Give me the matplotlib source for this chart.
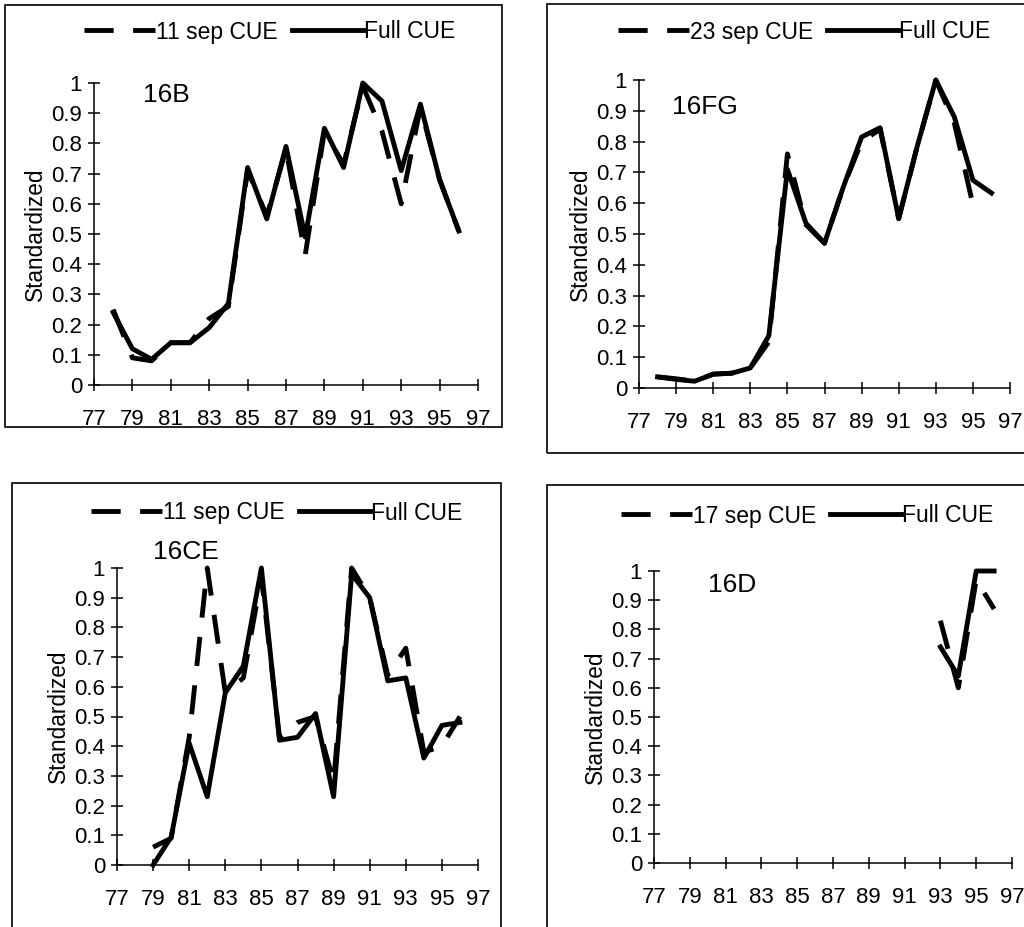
#!/usr/bin/env python3
"""
Standardized CUE series, four stock panels (16B, 16FG, 16CE, 16D):
partial-September CUE (dashed) vs full CUE (solid).
"""

import matplotlib
matplotlib.use("Agg")
import matplotlib.pyplot as plt
from matplotlib.patches import Rectangle
from matplotlib.ticker import FuncFormatter

# ==========================
# Data
# ==========================
years_b = [78, 79, 80, 81, 82, 83, 84, 85, 86, 87, 88, 89, 90, 91, 92, 93, 94, 95, 96]
full_b = [0.24, 0.12, 0.085, 0.14, 0.14, 0.19, 0.27, 0.72, 0.55, 0.79, 0.49,
          0.85, 0.72, 1.00, 0.94, 0.71, 0.93, 0.68, 0.51]
sep_b = [0.25, 0.09, 0.08, 0.14, 0.14, 0.22, 0.26, 0.71, 0.56, 0.78, 0.43,
         0.84, 0.73, 0.99, 0.84, 0.60, 0.92, 0.68, 0.51]

years_fg = [78, 79, 80, 81, 82, 83, 84, 85, 86, 87, 88, 89, 90, 91, 92, 93, 94, 95, 96]
full_fg = [0.036, 0.028, 0.022, 0.045, 0.048, 0.065, 0.17, 0.71, 0.535, 0.47,
           0.65, 0.815, 0.845, 0.55, 0.785, 1.00, 0.88, 0.675, 0.633]
years_fg_sep = [78, 79, 80, 81, 82, 83, 84, 85, 86, 87, 88, 89, 90, 91, 92, 93, 94, 95]
sep_fg = [0.036, 0.030, 0.022, 0.045, 0.048, 0.065, 0.15, 0.76, 0.53, 0.47,
          0.65, 0.80, 0.84, 0.55, 0.785, 1.00, 0.86, 0.595]

years_ce = [79, 80, 81, 82, 83, 84, 85, 86, 87, 88, 89, 90, 91, 92, 93, 94, 95, 96]
full_ce = [0.0, 0.094, 0.41, 0.23, 0.58, 0.67, 1.00, 0.42, 0.43, 0.51, 0.23,
           0.98, 0.90, 0.62, 0.63, 0.36, 0.47, 0.48]
sep_ce = [0.06, 0.09, 0.43, 1.00, 0.58, 0.63, 0.97, 0.43, 0.48, 0.50, 0.28,
          1.00, 0.90, 0.64, 0.73, 0.38, 0.40, 0.50]

years_d = [93, 94, 95, 96]
full_d = [0.74, 0.64, 1.00, 1.00]
sep_d = [0.83, 0.60, 0.97, 0.87]

x_ticks = [77, 79, 81, 83, 85, 87, 89, 91, 93, 95, 97]
y_ticks = [0, 0.1, 0.2, 0.3, 0.4, 0.5, 0.6, 0.7, 0.8, 0.9, 1.0]

# ==========================
# Figure geometry (pixels)
# ==========================
W, H = 1024, 927
plt.rcParams["font.family"] = ["Liberation Sans", "DejaVu Sans"]

fig = plt.figure(figsize=(W / 100, H / 100), dpi=100)
fig.patch.set_facecolor("white")


def px_axes(left, right, top, bottom):
    return fig.add_axes([left / W, 1 - bottom / H, (right - left) / W, (bottom - top) / H])


def px_box(left, right, top, bottom):
    fig.patches.append(Rectangle(
        (left / W, 1 - bottom / H), (right - left) / W, (bottom - top) / H,
        transform=fig.transFigure, fill=False, edgecolor="black", lw=1.2,
    ))


def fmt_y(v, _):
    if abs(v) < 1e-9:
        return "0"
    if abs(v - 1) < 1e-9:
        return "1"
    return f"{v:.1f}"


def panel(ax, xs_full, ys_full, xs_sep, ys_sep, sep_label, name, name_xy, legend_px):
    ax.plot(xs_sep, ys_sep, color="black", lw=3.5, dashes=(6, 4),
            clip_on=False, label=sep_label)
    ax.plot(xs_full, ys_full, color="black", lw=3.5, clip_on=False, label="Full CUE")

    ax.set_xlim(77, 97)
    ax.set_ylim(0, 1)
    ax.set_xticks(x_ticks)
    ax.set_yticks(y_ticks)
    ax.yaxis.set_major_formatter(FuncFormatter(fmt_y))
    ax.tick_params(axis="both", direction="inout", length=9, width=1.1, labelsize=16)
    ax.tick_params(axis="x", pad=13)
    ax.tick_params(axis="y", pad=4)
    for side in ("top", "right"):
        ax.spines[side].set_visible(False)
    for side in ("left", "bottom"):
        ax.spines[side].set_linewidth(1.1)
    ax.patch.set_alpha(0)

    ax.set_ylabel("Standardized", fontsize=16.3, labelpad=3)
    ax.text(name_xy[0], name_xy[1], name, transform=ax.transAxes,
            fontsize=19, ha="left", va="center")

    ax.legend(
        loc="center left", frameon=False, ncol=2,
        bbox_to_anchor=(legend_px[0] / W, 1 - legend_px[1] / H),
        bbox_transform=fig.transFigure, borderaxespad=0, borderpad=0,
        handlelength=3.1, handletextpad=0.05, columnspacing=0.6,
        fontsize=16.5,
    )


# --------------------------
# Panel frames
# --------------------------
px_box(5, 502, 5, 427)
px_box(547, 1030, 4, 453)
px_box(12, 501, 483, 935)
px_box(547, 1030, 485, 935)

# --------------------------
# 16B (top left)
# --------------------------
ax_b = px_axes(94, 478, 83, 385)
panel(ax_b, years_b, full_b, years_b, sep_b, "11 sep CUE", "16B",
      (0.128, 0.96), (84, 32))

# --------------------------
# 16FG (top right)
# --------------------------
ax_fg = px_axes(639, 1010, 80, 388)
panel(ax_fg, years_fg, full_fg, years_fg_sep, sep_fg, "23 sep CUE", "16FG",
      (0.089, 0.912), (618, 32))

# --------------------------
# 16CE (bottom left)
# --------------------------
ax_ce = px_axes(117, 478, 568, 865)
panel(ax_ce, years_ce, full_ce, years_ce, sep_ce, "11 sep CUE", "16CE",
      (0.10, 1.054), (91, 513))

# --------------------------
# 16D (bottom right)
# --------------------------
ax_d = px_axes(654, 1012, 571, 863)
panel(ax_d, years_d, full_d, years_d, sep_d, "17 sep CUE", "16D",
      (0.151, 0.952), (621, 516))

fig.savefig("out.png", dpi=100, facecolor="white")
plt.close(fig)
